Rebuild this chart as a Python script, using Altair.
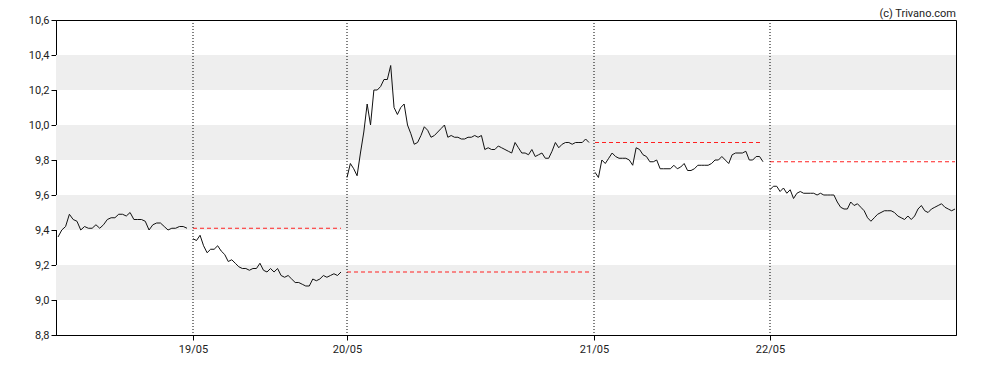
import altair as alt
import pandas as pd

# ---- data ----
seg1 = [9.36, 9.40, 9.42, 9.49, 9.46, 9.45, 9.40, 9.42, 9.41, 9.41, 9.43, 9.41, 9.43, 9.46, 9.47,
        9.47, 9.49, 9.49, 9.48, 9.50, 9.46, 9.46, 9.46, 9.45, 9.40, 9.43, 9.44, 9.44, 9.42, 9.40,
        9.41, 9.41, 9.42, 9.42, 9.41]
seg2 = [9.35, 9.34, 9.37, 9.31, 9.27, 9.29, 9.29, 9.31, 9.28, 9.26, 9.22, 9.23, 9.21, 9.19, 9.18,
        9.18, 9.17, 9.18, 9.18, 9.21, 9.17, 9.16, 9.18, 9.16, 9.18, 9.14, 9.13, 9.14, 9.12, 9.10,
        9.10, 9.09, 9.08, 9.08, 9.12, 9.11, 9.12, 9.14, 9.13, 9.14, 9.15, 9.14, 9.16]
seg3 = [9.70, 9.78, 9.75, 9.71, 9.84, 9.96, 10.12, 10.00, 10.20, 10.20, 10.22, 10.26, 10.26, 10.34,
        10.10, 10.06, 10.10, 10.12, 10.00, 9.95, 9.89, 9.90, 9.94, 9.99, 9.97, 9.93, 9.94, 9.96,
        9.98, 10.00, 9.93, 9.94, 9.93, 9.93, 9.92, 9.92, 9.93, 9.93, 9.94, 9.93, 9.94, 9.86, 9.87,
        9.86, 9.86, 9.88, 9.87, 9.86, 9.85, 9.84, 9.90, 9.87, 9.84, 9.84, 9.83, 9.86, 9.82, 9.83,
        9.84, 9.81, 9.81, 9.85, 9.90, 9.87, 9.89, 9.90, 9.90, 9.89, 9.90, 9.90, 9.90, 9.92, 9.90]
seg4 = [9.73, 9.70, 9.80, 9.78, 9.81, 9.84, 9.82, 9.81, 9.81, 9.81, 9.80, 9.77, 9.87, 9.86, 9.83,
        9.82, 9.79, 9.79, 9.80, 9.75, 9.75, 9.75, 9.75, 9.77, 9.75, 9.76, 9.78, 9.74, 9.74, 9.75,
        9.77, 9.77, 9.77, 9.77, 9.78, 9.80, 9.80, 9.82, 9.80, 9.78, 9.83, 9.84, 9.84, 9.84, 9.85,
        9.80, 9.80, 9.82, 9.82, 9.79]
seg5 = [9.63, 9.65, 9.65, 9.62, 9.64, 9.61, 9.63, 9.58, 9.61, 9.62, 9.61, 9.61, 9.61, 9.61, 9.60,
        9.61, 9.60, 9.60, 9.60, 9.60, 9.56, 9.53, 9.52, 9.52, 9.56, 9.54, 9.55, 9.53, 9.51, 9.47,
        9.45, 9.47, 9.49, 9.50, 9.51, 9.51, 9.51, 9.50, 9.48, 9.47, 9.46, 9.48, 9.46, 9.48, 9.52,
        9.54, 9.51, 9.50, 9.52, 9.53, 9.54, 9.55, 9.53, 9.52, 9.51, 9.52]
segments = [seg1, seg2, seg3, seg4, seg5]

# session start / end on the (gap-free) time axis
seg_start = [2, 137, 291, 539, 714]
seg_end = [131, 285, 533, 707, 899]

# previous close reference levels (for sessions 2..5)
ref_levels = [9.41, 9.16, 9.90, 9.79]

day_pos = [137, 291, 538, 714]
day_labels = ["19/05", "20/05", "21/05", "22/05"]

y_ticks = [8.8, 9.0, 9.2, 9.4, 9.6, 9.8, 10.0, 10.2, 10.4, 10.6]
band_lo = [9.0, 9.4, 9.8, 10.2]
band_hi = [9.2, 9.6, 10.0, 10.4]

copyright_text = ["(c) Trivano.com"]

# ---- tables ----
rows = []
for i, seg in enumerate(segments):
    n = len(seg)
    for j, v in enumerate(seg):
        t = seg_start[i] + (seg_end[i] - seg_start[i]) * j / (n - 1)
        rows.append({"t": t, "price": v, "seg": i})
line_df = pd.DataFrame(rows)

ref_df = pd.DataFrame({
    "t0": seg_start[1:],
    "t1": seg_end[1:],
    "level": ref_levels,
})
day_df = pd.DataFrame({"t": day_pos, "label": day_labels})
band_df = pd.DataFrame({"lo": band_lo, "hi": band_hi})
note_df = pd.DataFrame({"text": copyright_text})

label_expr = " : ".join(
    f"datum.value == {p} ? '{l}'" for p, l in zip(day_pos, day_labels)
) + " : ''"

x_scale = alt.Scale(domain=[0, 900], nice=False, zero=False)
y_scale = alt.Scale(domain=[8.8, 10.6], nice=False, zero=False)

x_axis = alt.Axis(values=day_pos, labelExpr=label_expr, title=None, grid=False,
                  tickSize=5, labelPadding=3, domainColor="black", tickColor="black",
                  labelOverlap=False)
y_axis = alt.Axis(values=y_ticks, labelExpr="replace(format(datum.value, '.1f'), '.', ',')",
                  title=None, grid=False, tickSize=5, labelPadding=2,
                  domainColor="black", tickColor="black", labelOverlap=False)

bands = alt.Chart(band_df).mark_rect(color="#eeeeee").encode(
    y=alt.Y("lo:Q", scale=y_scale, axis=y_axis),
    y2="hi:Q",
)

refs = alt.Chart(ref_df).mark_rule(color="#ff2020", strokeDash=[4, 3], strokeWidth=1).encode(
    x=alt.X("t0:Q", scale=x_scale, axis=x_axis),
    x2="t1:Q",
    y=alt.Y("level:Q", scale=y_scale, axis=y_axis),
)

days = alt.Chart(day_df).mark_rule(color="black", strokeDash=[1, 2], strokeWidth=1).encode(
    x=alt.X("t:Q", scale=x_scale, axis=x_axis),
)

line = alt.Chart(line_df).mark_line(color="#111111", strokeWidth=1).encode(
    x=alt.X("t:Q", scale=x_scale, axis=x_axis),
    y=alt.Y("price:Q", scale=y_scale, axis=y_axis),
    detail="seg:N",
)

note = alt.Chart(note_df).mark_text(
    align="right", baseline="alphabetic", font="Roboto", fontSize=11, color="#222222"
).encode(
    text="text:N",
    x=alt.value(900),
    y=alt.value(-3),
)

chart = alt.layer(bands, refs, days, line, note).properties(
    width=900,
    height=315,
    autosize=alt.AutoSizeParams(type="none"),
    padding={"left": 48, "top": 12, "right": 24, "bottom": 27},
).configure_view(stroke="black", strokeWidth=1).configure_axis(
    labelFont="Roboto", labelFontSize=11, labelColor="#222222"
)

chart.save("out.html", embed_options={"renderer": "svg", "actions": False})
